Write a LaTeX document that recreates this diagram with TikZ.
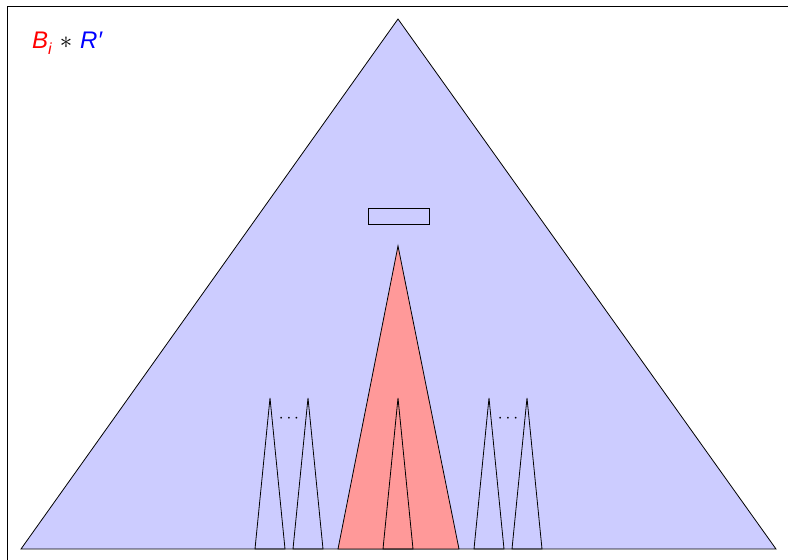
\documentclass[tikz,border=0pt]{standalone}
\usepackage{fontspec}
\setsansfont{Liberation Sans}
\begin{document}
\begin{tikzpicture}[x=1pt,y=-1pt,
  tri/.style={draw=black,line width=0.8pt,line join=miter},
  bigtri/.style={tri,fill=blue!20},
  redtri/.style={tri,fill=red!40},
  dots/.style={inner sep=0pt,font=\fontsize{19}{22}\selectfont},
  lbl/.style={inner sep=0pt,anchor=base west,font=\sffamily\fontsize{24}{28}\selectfont}]
\useasboundingbox (0,0) rectangle (788,560);
% frame
\draw[line width=0.8pt] (7,561) -- (7,6) -- (789,6);
% big triangle
\coordinate (A) at (398,19);
\coordinate (BL) at (21,549);
\coordinate (BR) at (776,549);
\draw[bigtri] (A) -- (BL) -- (BR) -- cycle;
% rectangle
\node[draw=black,line width=0.8pt,minimum width=61pt,minimum height=16pt,inner sep=0pt] (box) at (398.5,216) {};
% red triangle
\coordinate (RA) at (398,246);
\coordinate (RL) at (338,549);
\coordinate (RR) at (459,549);
\draw[redtri] (RA) -- (RL) -- (RR) -- cycle;
% small triangles
\foreach \n/\x in {l1/270,l2/308,c/398,r1/489,r2/527}{
  \coordinate (\n-t) at (\x,398);
  \coordinate (\n-l) at (\x-15,549);
  \coordinate (\n-r) at (\x+15,549);
  \draw[tri] (\n-t) -- (\n-l) -- (\n-r) -- cycle;
}
% dots
\node[dots] (dl) at (289,419) {$\cdots$};
\node[dots] (dr) at (508,419) {$\cdots$};
% label
\node[lbl] (lab) at (32,48) {\textcolor{red}{\itshape B\raisebox{-0.25em}{\fontsize{16}{18}\selectfont i}}\,\,$*$\,\,\textcolor{blue}{\itshape R′}};
\end{tikzpicture}
\end{document}
